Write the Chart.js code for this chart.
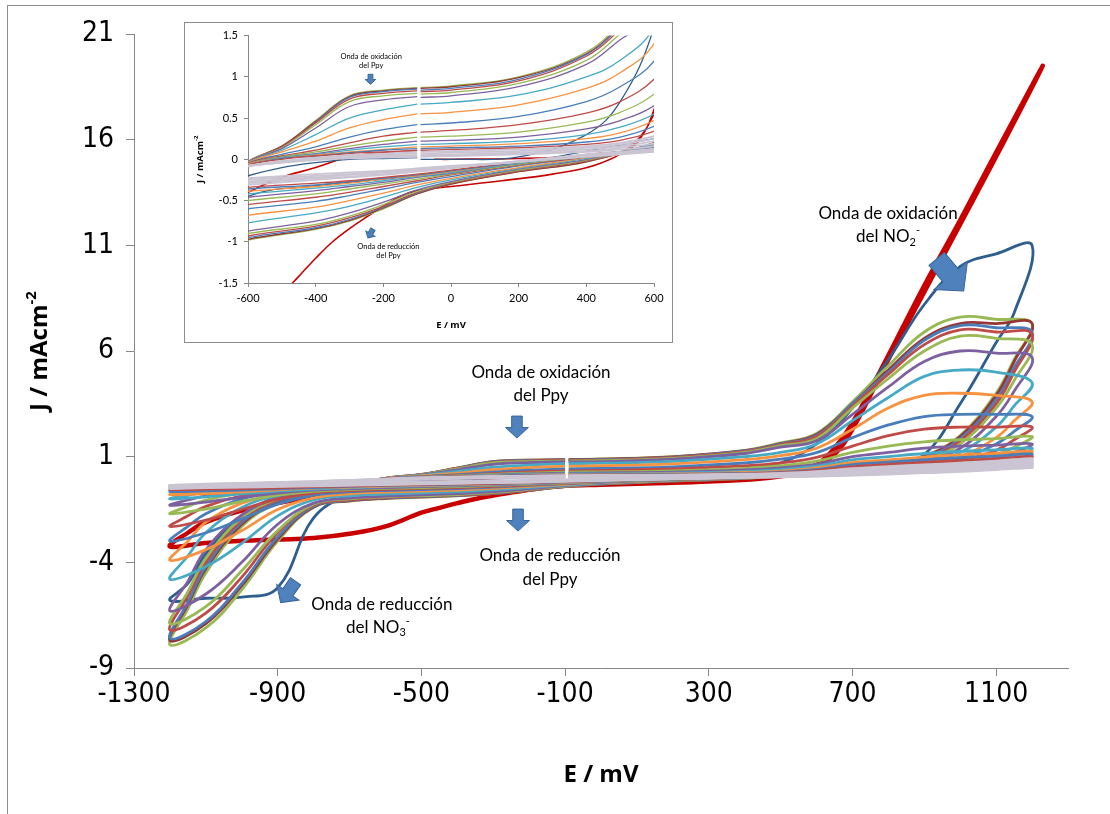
<!DOCTYPE html>
<html>
<head>
<meta charset="utf-8">
<script src="https://cdn.jsdelivr.net/npm/chart.js@4.4.1/dist/chart.umd.min.js"></script>
<style>
html, body { margin: 0; padding: 0; background: #fff; }
#wrap { position: relative; width: 1110px; height: 814px; overflow: hidden; }
#frame { position: absolute; left: 7px; top: 5px; width: 1200px; height: 900px; border: 1px solid #8c8c8c; }
#main { position: absolute; left: 0; top: 0; }
#insetBox { position: absolute; left: 184px; top: 22px; width: 487px; height: 319px; border: 1px solid #8c8c8c; background: #fff; }
#inset { position: absolute; left: 0; top: 0; }
</style>
</head>
<body>
<div id="wrap">
  <div id="frame"></div>
  <canvas id="main" width="1110" height="814"></canvas>
  <div id="insetBox"><canvas id="inset" width="487" height="319"></canvas></div>
</div>
<script>
// potential grid of one scan cycle: anodic from -90, back to -1200, up again to -100
const FWD_E = [-90, 0, 200, 400, 500, 600, 700, 800, 900, 1000, 1100, 1200];
const REV_E = [1150, 1100, 1000, 900, 800, 700, 600, 400, 200, 0, -100, -200, -300, -400, -600, -700, -800, -900, -1000, -1100, -1200];
const RET_E = [-1150, -1100, -1000, -900, -800, -700, -600, -500, -400, -300, -200, -100];

// first cycle (own potential window)
const RED_E = [-50, 0, 200, 400, 500, 550, 600, 650, 700, 800, 900, 1000, 1100, 1230,
  1100, 1000, 900, 800, 700, 650, 600, 540, 440, 300, 150, 0, -100, -150, -200, -250, -300, -350, -400, -450, -500, -600, -700, -800, -900, -1000, -1100, -1200,
  -1150, -1100, -1000, -900, -800, -700, -600, -500, -400, -300, -200, -100];
const RED_J = [0.0, 0.0, 0.01, 0.04, 0.08, 0.2, 0.6, 1.4, 2.6, 5.8, 9.1, 12.2, 15.4, 19.5,
  15.2, 12.0, 8.8, 5.6, 2.3, 1.1, 0.55, 0.19, -0.05, -0.18, -0.26, -0.33, -0.38, -0.45, -0.57, -0.70, -0.84, -1.0, -1.2, -1.42, -1.65, -2.3, -2.65, -2.85, -2.92, -2.98, -3.08, -3.25,
  -2.6, -2.1, -1.55, -1.2, -0.9, -0.65, -0.40, -0.22, -0.10, 0.03, 0.08, 0.10];

// second cycle
const J_C02 = [0.0, 0.0, 0.03, 0.3, 0.7, 1.6, 3.3, 5.6, 8.2, 10.0, 10.6, 11.0,
  7.8, 6.4, 3.5, 1.1, 0.55, 0.35, 0.25, 0.1, -0.05, -0.15, -0.2, -0.24, -0.28, -0.32, -0.45, -0.8, -1.9, -5.2, -5.65, -5.7, -5.8,
  -5.0, -3.6, -1.8, -0.9, -0.55, -0.35, -0.2, -0.1, -0.04, 0.0, 0.01, 0.02];

// coloured cycles, largest NO2- wave first
const J_A01 = [0.87, 0.89, 1.0, 1.3, 1.65, 2.1, 3.6, 5.3, 6.9, 7.6, 7.5, 7.3,
  5.6, 4.0, 2.0, 1.0, 0.6, 0.4, 0.2, -0.03, -0.15, -0.30, -0.42, -0.60, -0.75, -0.85, -0.98, -1.1, -1.4, -3.0, -5.3, -7.1, -7.9,
  -6.2, -4.5, -2.3, -1.2, -0.8, -0.4, -0.03, 0.16, 0.47, 0.77, 0.84, 0.87];
const J_A02 = [0.86, 0.88, 0.99, 1.28, 1.62, 2.05, 3.5, 5.1, 6.6, 7.3, 7.3, 7.3,
  5.5, 3.9, 1.95, 1.0, 0.6, 0.4, 0.2, -0.03, -0.15, -0.30, -0.42, -0.59, -0.74, -0.84, -0.97, -1.09, -1.38, -2.9, -5.1, -6.9, -7.7,
  -6.0, -4.3, -2.2, -1.15, -0.78, -0.4, -0.03, 0.16, 0.46, 0.76, 0.83, 0.86];
const J_A03 = [0.84, 0.86, 0.97, 1.27, 1.6, 2.0, 3.5, 5.0, 6.5, 7.2, 7.1, 6.9,
  5.2, 3.7, 1.85, 0.95, 0.58, 0.38, 0.2, -0.02, -0.14, -0.29, -0.41, -0.58, -0.73, -0.83, -0.95, -1.07, -1.35, -2.8, -5.0, -6.8, -7.6,
  -5.9, -4.2, -2.1, -1.1, -0.76, -0.39, -0.03, 0.15, 0.45, 0.75, 0.82, 0.85];
const J_A04 = [0.82, 0.84, 0.95, 1.25, 1.57, 1.95, 3.4, 4.9, 6.3, 7.0, 6.9, 6.8,
  5.0, 3.5, 1.75, 0.9, 0.56, 0.37, 0.2, -0.02, -0.14, -0.29, -0.40, -0.57, -0.71, -0.81, -0.93, -1.04, -1.3, -2.6, -4.7, -6.4, -7.2,
  -5.6, -4.0, -2.0, -1.05, -0.74, -0.38, -0.03, 0.15, 0.44, 0.73, 0.80, 0.83];
const J_A05 = [0.79, 0.81, 0.92, 1.2, 1.52, 1.85, 3.3, 4.7, 6.0, 6.7, 6.6, 6.3,
  4.6, 3.3, 1.6, 0.85, 0.54, 0.36, 0.19, -0.01, -0.13, -0.28, -0.39, -0.55, -0.69, -0.79, -0.9, -1.0, -1.25, -2.5, -4.4, -6.1, -6.9,
  -5.4, -3.8, -1.9, -1.0, -0.72, -0.37, -0.03, 0.14, 0.42, 0.70, 0.77, 0.80];
const J_A06 = [0.75, 0.77, 0.88, 1.15, 1.45, 1.75, 3.0, 4.3, 5.5, 6.0, 5.9, 5.7,
  4.1, 2.9, 1.4, 0.8, 0.52, 0.35, 0.19, 0.0, -0.12, -0.27, -0.37, -0.52, -0.65, -0.75, -0.87, -0.96, -1.2, -2.2, -4.0, -5.5, -6.3,
  -4.9, -3.4, -1.75, -0.95, -0.7, -0.36, -0.03, 0.13, 0.38, 0.64, 0.72, 0.76];
const J_A07 = [0.67, 0.69, 0.78, 1.0, 1.2, 1.6, 2.7, 3.8, 4.8, 5.1, 5.0, 4.5,
  3.4, 2.4, 1.2, 0.72, 0.48, 0.33, 0.18, 0.01, -0.11, -0.25, -0.34, -0.46, -0.57, -0.65, -0.77, -0.85, -1.05, -1.8, -3.1, -4.2, -4.8,
  -3.7, -2.6, -1.4, -0.85, -0.65, -0.34, -0.04, 0.11, 0.3, 0.5, 0.6, 0.67];
const J_A08 = [0.55, 0.57, 0.66, 0.86, 1.05, 1.4, 2.3, 3.3, 3.9, 4.0, 3.9, 3.6,
  2.7, 1.9, 1.0, 0.65, 0.45, 0.31, 0.17, 0.02, -0.10, -0.23, -0.31, -0.41, -0.50, -0.58, -0.68, -0.76, -0.95, -1.5, -2.5, -3.4, -3.9,
  -3.0, -2.1, -1.2, -0.78, -0.6, -0.33, -0.04, 0.09, 0.22, 0.38, 0.48, 0.55];
const J_A09 = [0.42, 0.44, 0.52, 0.7, 0.88, 1.19, 1.9, 2.5, 2.9, 3.0, 3.0, 2.9,
  2.2, 1.6, 0.9, 0.6, 0.42, 0.3, 0.17, 0.03, -0.08, -0.21, -0.28, -0.36, -0.44, -0.51, -0.60, -0.67, -0.82, -1.25, -1.95, -2.6, -3.0,
  -2.3, -1.7, -1.0, -0.7, -0.55, -0.31, -0.05, 0.06, 0.15, 0.27, 0.36, 0.42];
const J_A10 = [0.33, 0.35, 0.42, 0.56, 0.7, 0.97, 1.5, 2.0, 2.3, 2.4, 2.4, 2.4,
  1.8, 1.3, 0.8, 0.55, 0.4, 0.28, 0.16, 0.03, -0.07, -0.19, -0.26, -0.33, -0.40, -0.46, -0.55, -0.61, -0.72, -1.0, -1.5, -2.0, -2.3,
  -1.8, -1.35, -0.85, -0.63, -0.5, -0.3, -0.05, 0.04, 0.11, 0.2, 0.28, 0.33];
const J_A11 = [0.27, 0.28, 0.33, 0.45, 0.57, 0.79, 1.2, 1.5, 1.7, 1.8, 1.85, 1.95,
  1.45, 1.1, 0.7, 0.5, 0.37, 0.27, 0.16, 0.04, -0.06, -0.18, -0.24, -0.30, -0.36, -0.42, -0.50, -0.56, -0.64, -0.82, -1.12, -1.48, -1.7,
  -1.35, -1.05, -0.72, -0.57, -0.46, -0.29, -0.06, 0.03, 0.09, 0.16, 0.22, 0.27];
const J_A12 = [0.22, 0.23, 0.27, 0.37, 0.47, 0.65, 1.0, 1.2, 1.4, 1.5, 1.55, 1.6,
  1.2, 0.95, 0.62, 0.46, 0.35, 0.26, 0.15, 0.04, -0.05, -0.17, -0.22, -0.28, -0.33, -0.38, -0.46, -0.52, -0.58, -0.72, -0.92, -1.15, -1.3,
  -1.05, -0.85, -0.62, -0.52, -0.43, -0.28, -0.06, 0.02, 0.07, 0.13, 0.18, 0.22];
const J_A13 = [0.18, 0.19, 0.22, 0.3, 0.39, 0.55, 0.85, 1.0, 1.15, 1.25, 1.32, 1.4,
  1.05, 0.85, 0.58, 0.43, 0.33, 0.25, 0.15, 0.05, -0.05, -0.16, -0.21, -0.26, -0.31, -0.35, -0.42, -0.47, -0.53, -0.63, -0.76, -0.9, -1.0,
  -0.82, -0.7, -0.55, -0.48, -0.4, -0.27, -0.06, 0.02, 0.06, 0.11, 0.15, 0.18];
const J_A14 = [0.15, 0.16, 0.19, 0.25, 0.32, 0.47, 0.72, 0.85, 0.98, 1.08, 1.16, 1.25,
  0.95, 0.78, 0.54, 0.41, 0.32, 0.24, 0.14, 0.05, -0.04, -0.15, -0.20, -0.24, -0.29, -0.33, -0.39, -0.44, -0.49, -0.57, -0.66, -0.75, -0.8,
  -0.68, -0.6, -0.5, -0.44, -0.38, -0.26, -0.06, 0.01, 0.05, 0.09, 0.12, 0.15];
const J_A15 = [0.13, 0.14, 0.16, 0.21, 0.27, 0.4, 0.62, 0.74, 0.85, 0.95, 1.03, 1.12,
  0.86, 0.71, 0.5, 0.39, 0.31, 0.23, 0.14, 0.05, -0.04, -0.14, -0.19, -0.23, -0.27, -0.31, -0.36, -0.41, -0.46, -0.52, -0.58, -0.62, -0.65,
  -0.57, -0.52, -0.46, -0.41, -0.36, -0.25, -0.07, 0.01, 0.04, 0.08, 0.11, 0.13];
const J_A16 = [0.11, 0.12, 0.14, 0.18, 0.23, 0.34, 0.52, 0.63, 0.73, 0.82, 0.9, 1.0,
  0.78, 0.65, 0.47, 0.37, 0.3, 0.22, 0.13, 0.06, -0.03, -0.13, -0.18, -0.22, -0.26, -0.29, -0.34, -0.38, -0.42, -0.47, -0.51, -0.54, -0.55,
  -0.5, -0.47, -0.43, -0.39, -0.34, -0.24, -0.07, 0.0, 0.04, 0.07, 0.09, 0.11];

// low-current cycles (grey band)
const J_G1 = [0.09, 0.1, 0.12, 0.16, 0.2, 0.28, 0.42, 0.52, 0.6, 0.68, 0.78, 0.9,
  0.7, 0.6, 0.45, 0.35, 0.27, 0.2, 0.13, 0.06, -0.02, -0.11, -0.15, -0.19, -0.22, -0.25, -0.31, -0.34, -0.37, -0.4, -0.43, -0.46, -0.5,
  -0.45, -0.41, -0.35, -0.3, -0.25, -0.17, -0.08, -0.02, 0.02, 0.05, 0.07, 0.09];
const J_G2 = [0.07, 0.08, 0.1, 0.14, 0.18, 0.25, 0.37, 0.47, 0.55, 0.62, 0.7, 0.8,
  0.64, 0.55, 0.42, 0.33, 0.25, 0.18, 0.12, 0.05, -0.03, -0.1, -0.14, -0.18, -0.21, -0.23, -0.29, -0.32, -0.35, -0.38, -0.41, -0.43, -0.46,
  -0.42, -0.38, -0.33, -0.28, -0.23, -0.16, -0.08, -0.03, 0.01, 0.04, 0.06, 0.07];
const J_G3 = [0.05, 0.06, 0.08, 0.12, 0.16, 0.22, 0.33, 0.42, 0.5, 0.57, 0.64, 0.7,
  0.58, 0.5, 0.38, 0.3, 0.23, 0.17, 0.11, 0.04, -0.03, -0.1, -0.13, -0.16, -0.19, -0.22, -0.27, -0.3, -0.33, -0.36, -0.38, -0.41, -0.43,
  -0.39, -0.36, -0.31, -0.26, -0.21, -0.15, -0.08, -0.03, 0.0, 0.03, 0.04, 0.05];
const J_G4 = [0.04, 0.05, 0.07, 0.1, 0.14, 0.19, 0.29, 0.37, 0.45, 0.52, 0.58, 0.62,
  0.52, 0.45, 0.35, 0.27, 0.21, 0.15, 0.1, 0.04, -0.03, -0.09, -0.12, -0.15, -0.18, -0.2, -0.25, -0.28, -0.31, -0.34, -0.36, -0.38, -0.4,
  -0.36, -0.33, -0.29, -0.24, -0.2, -0.14, -0.08, -0.04, 0.0, 0.02, 0.03, 0.04];
const J_G5 = [0.03, 0.04, 0.06, 0.09, 0.12, 0.16, 0.25, 0.32, 0.4, 0.46, 0.5, 0.5,
  0.46, 0.4, 0.31, 0.25, 0.19, 0.14, 0.09, 0.03, -0.03, -0.08, -0.11, -0.14, -0.16, -0.18, -0.23, -0.26, -0.29, -0.31, -0.33, -0.35, -0.37,
  -0.33, -0.31, -0.27, -0.23, -0.19, -0.13, -0.08, -0.04, -0.01, 0.01, 0.02, 0.03];

const COLOURED = [J_A01, J_A02, J_A03, J_A04, J_A05, J_A06, J_A07, J_A08, J_A09, J_A10, J_A11, J_A12, J_A13, J_A14, J_A15, J_A16];
const COLOURS = ['#98B954', '#953735', '#4A7EBB', '#BE4B48', '#98B954', '#7D60A0', '#46AAC5', '#F69240',
  '#4A7EBB', '#BE4B48', '#98B954', '#7D60A0', '#46AAC5', '#F69240', '#4A7EBB', '#BE4B48'];
const GREYS = [J_G1, J_G2, J_G3, J_G4, J_G5];

const X_TICKS = [-1300, -900, -500, -100, 300, 700, 1100];
const Y_TICKS = [-9, -4, 1, 6, 11, 16, 21];

const CYCLE_E = FWD_E.concat(REV_E, RET_E);
[J_C02, ...COLOURED, ...GREYS].forEach((a, i) => {
  if (a.length !== CYCLE_E.length) throw new Error('cycle ' + i + ' has ' + a.length + ' values');
});
if (RED_E.length !== RED_J.length) throw new Error('red cycle length');

const pts = (es, js) => es.map((e, i) => ({ x: e, y: js[i] }));

function buildSets(big) {
  const sets = [];
  GREYS.forEach(j => sets.push({ data: pts(CYCLE_E, j), borderColor: '#CBC5D3', borderWidth: big ? 3.2 : 1.8 }));
  for (let i = COLOURED.length - 1; i >= 0; i--) {
    sets.push({ data: pts(CYCLE_E, COLOURED[i]), borderColor: COLOURS[i], borderWidth: big ? 2.8 : 1.3 });
  }
  sets.push({ data: pts(CYCLE_E, J_C02), borderColor: '#2F5E8E', borderWidth: big ? 2.8 : 1.3 });
  sets.push({ data: pts(RED_E, RED_J), borderColor: '#C80000', borderWidth: big ? 4.5 : 1.6 });
  sets.forEach(s => { s.showLine = true; s.pointRadius = 0; s.tension = 0.4; s.fill = false; s.clip = big ? 4 : 0; });
  return sets;
}

const NOTE_FONT = 'Lato, "Open Sans", sans-serif';
const TICK_FONT = '"Liberation Sans Narrow", "DejaVu Sans Condensed", "Liberation Sans", sans-serif';
const TITLE_FONT = '"Open Sans", Lato, sans-serif';

const MAIN_LABELS = [
  { e: -167, j: 5.0, parts: [{ t: 'Onda de oxidación' }] },
  { e: -167, j: 3.9, parts: [{ t: 'del Ppy' }] },
  { e: -142, j: -3.7, parts: [{ t: 'Onda de reducción' }] },
  { e: -142, j: -4.8, parts: [{ t: 'del Ppy' }] },
  { e: -610, j: -6.0, parts: [{ t: 'Onda de reducción' }] },
  { e: -621, j: -7.1, parts: [{ t: 'del NO' }, { t: '3', sub: true }, { t: '-', sup: true }] },
  { e: 799, j: 12.5, parts: [{ t: 'Onda de oxidación' }] },
  { e: 799, j: 11.4, parts: [{ t: 'del NO' }, { t: '2', sub: true }, { t: '-', sup: true }] }
];
const MAIN_ARROWS = [
  { e: -234, j: 2.4, size: 22, angle: 0 },
  { e: -231, j: -2.0, size: 22, angle: 0 },
  { e: -871, j: -5.4, size: 26, angle: 35 },
  { e: 972, j: 9.6, size: 42, angle: -40 }
];
const INSET_LABELS = [
  { e: -236, j: 1.25, parts: [{ t: 'Onda de oxidación' }] },
  { e: -236, j: 1.14, parts: [{ t: 'del Ppy' }] },
  { e: -185, j: -1.06, parts: [{ t: 'Onda de reducción' }] },
  { e: -185, j: -1.17, parts: [{ t: 'del Ppy' }] }
];
const INSET_ARROWS = [
  { e: -238, j: 0.97, size: 10, angle: 0 },
  { e: -238, j: -0.9, size: 10, angle: 30 }
];

function drawRich(ctx, parts, x, y, size, bold, family) {
  const w = bold ? 'bold ' : '';
  const base = w + size + 'px ' + family;
  const small = w + Math.round(size * 0.62) + 'px ' + family;
  const widths = parts.map(p => { ctx.font = (p.sub || p.sup) ? small : base; return ctx.measureText(p.t).width; });
  let cx = x - widths.reduce((a, b) => a + b, 0) / 2;
  ctx.textAlign = 'left';
  ctx.textBaseline = 'middle';
  ctx.fillStyle = '#000';
  parts.forEach((p, i) => {
    ctx.font = (p.sub || p.sup) ? small : base;
    const dy = p.sub ? size * 0.3 : p.sup ? -size * 0.35 : 0;
    ctx.fillText(p.t, cx, y + dy);
    cx += widths[i];
  });
}

function drawArrow(ctx, x, y, s, angle) {
  ctx.save();
  ctx.translate(x, y);
  ctx.rotate(angle * Math.PI / 180);
  ctx.beginPath();
  ctx.moveTo(-0.24 * s, -0.5 * s);
  ctx.lineTo(0.24 * s, -0.5 * s);
  ctx.lineTo(0.24 * s, 0.02 * s);
  ctx.lineTo(0.52 * s, 0.02 * s);
  ctx.lineTo(0, 0.5 * s);
  ctx.lineTo(-0.52 * s, 0.02 * s);
  ctx.lineTo(-0.24 * s, 0.02 * s);
  ctx.closePath();
  ctx.fillStyle = '#4F81BD';
  ctx.fill();
  ctx.lineWidth = 1;
  ctx.strokeStyle = '#3A659A';
  ctx.stroke();
  ctx.restore();
}

function notesPlugin(labels, arrows, cfg) {
  return {
    id: 'notes',
    afterDraw(chart) {
      const ctx = chart.ctx, xs = chart.scales.x, ys = chart.scales.y, a = chart.chartArea;
      ctx.save();
      arrows.forEach(r => drawArrow(ctx, xs.getPixelForValue(r.e), ys.getPixelForValue(r.j), r.size, r.angle));
      labels.forEach(l => drawRich(ctx, l.parts, xs.getPixelForValue(l.e), ys.getPixelForValue(l.j), cfg.noteSize, false, NOTE_FONT));
      // axis titles
      drawRich(ctx, [{ t: 'E / mV' }], (a.left + a.right) / 2, a.bottom + cfg.xTitleGap, cfg.titleSize, true, TITLE_FONT);
      ctx.translate(cfg.yTitleX, (a.top + a.bottom) / 2);
      ctx.rotate(-Math.PI / 2);
      drawRich(ctx, [{ t: 'J / mAcm' }, { t: '-2', sup: true }], 0, 0, cfg.titleSize, true, TITLE_FONT);
      ctx.restore();
    }
  };
}

const AXIS_GREY = '#868686';

new Chart(document.getElementById('main'), {
  type: 'scatter',
  data: { datasets: buildSets(true) },
  options: {
    responsive: false, animation: false, devicePixelRatio: 1,
    layout: { padding: { left: 0, right: 42, top: 34, bottom: 0 } },
    plugins: { legend: { display: false }, tooltip: { enabled: false } },
    scales: {
      x: {
        type: 'linear', min: -1300, max: 1300,
        afterBuildTicks: s => { s.ticks = X_TICKS.map(v => ({ value: v })); },
        afterFit: s => { s.height = 146; },
        ticks: { callback: v => String(v), font: { family: TICK_FONT, size: 28 }, color: '#000', padding: 2, maxRotation: 0, autoSkip: false },
        grid: { drawOnChartArea: false, tickLength: 8, color: AXIS_GREY },
        border: { color: AXIS_GREY }
      },
      y: {
        type: 'linear', min: -9, max: 21,
        afterBuildTicks: s => { s.ticks = Y_TICKS.map(v => ({ value: v })); },
        afterFit: s => { s.width = 134; },
        ticks: { callback: v => String(v), font: { family: TICK_FONT, size: 28 }, color: '#000', padding: 12, autoSkip: false },
        grid: { drawOnChartArea: false, tickLength: 8, color: AXIS_GREY },
        border: { color: AXIS_GREY }
      }
    }
  },
  plugins: [notesPlugin(MAIN_LABELS, MAIN_ARROWS, { noteSize: 17, titleSize: 24, xTitleGap: 107, yTitleX: 40 })]
});

new Chart(document.getElementById('inset'), {
  type: 'scatter',
  data: { datasets: buildSets(false) },
  options: {
    responsive: false, animation: false, devicePixelRatio: 1,
    layout: { padding: { left: 0, right: 18, top: 11, bottom: 0 } },
    plugins: { legend: { display: false }, tooltip: { enabled: false } },
    scales: {
      x: {
        type: 'linear', min: -600, max: 600,
        ticks: { stepSize: 200, callback: v => String(v), font: { family: NOTE_FONT, size: 11 }, color: '#000', padding: 5, maxRotation: 0 },
        afterFit: s => { s.height = 59; },
        grid: { drawOnChartArea: false, tickLength: 4, color: AXIS_GREY },
        border: { color: AXIS_GREY }
      },
      y: {
        type: 'linear', min: -1.5, max: 1.5,
        ticks: { stepSize: 0.5, callback: v => String(v), font: { family: NOTE_FONT, size: 11 }, color: '#000', padding: 6 },
        afterFit: s => { s.width = 63; },
        grid: { drawOnChartArea: false, tickLength: 4, color: AXIS_GREY },
        border: { color: AXIS_GREY }
      }
    }
  },
  plugins: [notesPlugin(INSET_LABELS, INSET_ARROWS, { noteSize: 7.5, titleSize: 9.5, xTitleGap: 42, yTitleX: 15 })]
});
</script>
</body>
</html>
